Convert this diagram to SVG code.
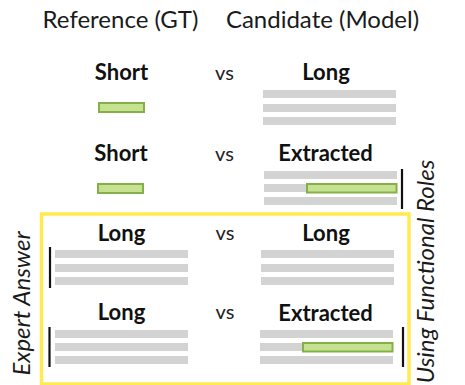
<svg xmlns="http://www.w3.org/2000/svg" width="465" height="385" viewBox="0 0 465 385">
<style>
.title{font-family:Lato,"Liberation Sans",sans-serif;font-size:24px;font-weight:400;fill:#1a1a1a;text-anchor:middle}
.lbl{font-family:Lato,"Liberation Sans",sans-serif;font-size:22px;font-weight:700;fill:#111;text-anchor:middle}
.vs{font-family:Lato,"Liberation Sans",sans-serif;font-size:20px;font-weight:400;fill:#222;text-anchor:middle}
.side{font-family:Lato,"Liberation Sans",sans-serif;font-size:24px;font-weight:400;font-style:italic;fill:#1a1a1a;text-anchor:middle}
.bar{fill:#d3d3d3}
.hl{fill:#c6e290;stroke:#84b04a;stroke-width:2}
.mark{stroke:#111;stroke-width:2.2}
</style>
<rect width="465" height="385" fill="#fff"/>
<g id="frame">
<rect x="41.5" y="214" width="367.5" height="170" fill="none" stroke="#ffeb4f" stroke-width="3.5"/>
</g>
<g id="headers">
<text class="title" x="120.5" y="28">Reference (GT)</text>
<text class="title" x="322.5" y="28">Candidate (Model)</text>
</g>
<g id="row1-ref">
<text class="lbl" x="121.5" y="80">Short</text>
<rect class="hl" x="99" y="103" width="45" height="9"/>
</g>
<g id="row1-vs"><text class="vs" x="224.5" y="80">vs</text></g>
<g id="row1-cand">
<text class="lbl" x="326" y="80">Long</text>
<rect class="bar" x="263" y="90" width="133" height="8"/>
<rect class="bar" x="263" y="104" width="133" height="8"/>
<rect class="bar" x="263" y="117" width="133" height="8"/>
</g>
<g id="row2-ref">
<text class="lbl" x="121" y="161">Short</text>
<rect class="hl" x="98" y="184" width="45" height="9"/>
</g>
<g id="row2-vs"><text class="vs" x="224.5" y="161">vs</text></g>
<g id="row2-cand">
<text class="lbl" x="325.5" y="161">Extracted</text>
<rect class="bar" x="264" y="171" width="133" height="8"/>
<rect class="bar" x="264" y="184" width="133" height="8"/>
<rect class="bar" x="264" y="197" width="133" height="8"/>
<rect class="hl" x="307" y="184" width="89.5" height="8.5"/>
</g>
<g id="row3-ref">
<text class="lbl" x="121.5" y="241">Long</text>
<rect class="bar" x="55" y="250" width="133" height="8"/>
<rect class="bar" x="55" y="264" width="133" height="8"/>
<rect class="bar" x="55" y="277" width="133" height="8"/>
</g>
<g id="row3-vs"><text class="vs" x="225" y="240">vs</text></g>
<g id="row3-cand">
<text class="lbl" x="326" y="241">Long</text>
<rect class="bar" x="261" y="250" width="133" height="8"/>
<rect class="bar" x="261" y="264" width="133" height="8"/>
<rect class="bar" x="261" y="277" width="133" height="8"/>
</g>
<g id="row4-ref">
<text class="lbl" x="121.5" y="320">Long</text>
<rect class="bar" x="55" y="330" width="133" height="8"/>
<rect class="bar" x="55" y="343" width="133" height="8"/>
<rect class="bar" x="55" y="356" width="133" height="8"/>
</g>
<g id="row4-vs"><text class="vs" x="225" y="319">vs</text></g>
<g id="row4-cand">
<text class="lbl" x="325.5" y="321">Extracted</text>
<rect class="bar" x="260" y="330" width="133" height="8"/>
<rect class="bar" x="260" y="343" width="133" height="8"/>
<rect class="bar" x="260" y="356" width="133" height="8"/>
<rect class="hl" x="303" y="343" width="89.5" height="8.5"/>
</g>
<g id="connectors">
<line class="mark" x1="402" y1="169" x2="402" y2="209"/>
<line class="mark" x1="50" y1="247" x2="50" y2="288"/>
<line class="mark" x1="49.5" y1="327" x2="49.5" y2="367"/>
<line class="mark" x1="403" y1="327" x2="403" y2="367"/>
</g>
<g id="expert-answer">
<text class="side" transform="translate(30,303.5) rotate(-90)">Expert Answer</text>
</g>
<g id="functional-roles">
<text class="side" transform="translate(434,271.5) rotate(-90)">Using Functional Roles</text>
</g>
</svg>
